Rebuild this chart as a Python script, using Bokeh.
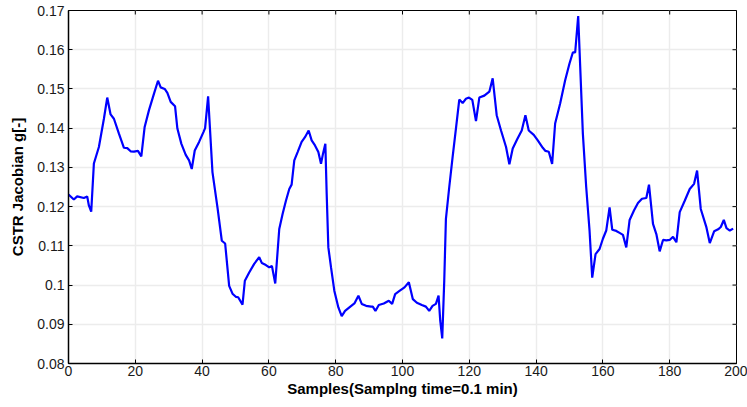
import math
from bokeh.plotting import figure
from bokeh.models import Range1d, FixedTicker
from bokeh.embed import file_html
from bokeh.resources import INLINE

samples = [
    0, 1.6, 2.6, 4.6, 5.6, 6.1, 6.8, 7.6, 9.1, 10.6,
    11.6, 12.6, 13.6, 15.1, 16.6, 17.6, 18.6, 19.6, 20.8, 21.8,
    22.8, 24.1, 25.6, 26.8, 27.6, 28.8, 29.6, 30.6, 31.9, 32.6,
    33.8, 35.1, 36.1, 36.9, 37.8, 39.1, 40.4, 40.9, 41.8, 43.1,
    44.6, 45.9, 46.9, 48.1, 49.1, 50.1, 50.8, 52.1, 52.8, 54.1,
    55.6, 57.1, 57.9, 59.1, 60.1, 60.9, 61.9, 63.1, 64.1, 65.1,
    66.1, 66.8, 67.6, 68.6, 69.8, 70.8, 71.9, 72.8, 73.8, 74.8,
    75.6, 76.2, 76.9, 77.3, 77.8, 78.6, 79.6, 80.8, 81.8, 82.8,
    84.1, 85.6, 86.8, 87.8, 89.1, 90.6, 91.1, 91.9, 92.9, 94.4,
    95.9, 96.9, 97.8, 99.1, 100.6, 101.9, 103.1, 104.3, 105.8, 107.0,
    108.0, 109.0, 110.0, 110.8, 111.3, 111.9, 112.5, 113.0, 114.0, 115.0,
    116.0, 117.0, 118.0, 119.0, 119.9, 120.9, 122.0, 123.0, 124.5, 126.0,
    127.0, 128.2, 129.5, 131.0, 132.0, 133.0, 134.3, 135.7, 136.8, 137.8,
    139.3, 140.5, 142.0, 142.8, 143.8, 144.8, 145.7, 147.2, 148.7, 150.0,
    151.0, 151.7, 152.6, 154.0, 155.0, 156.0, 156.8, 157.8, 159.0, 160.0,
    161.0, 162.0, 162.8, 164.0, 165.0, 166.0, 167.0, 168.0, 169.3, 170.5,
    171.7, 173.0, 173.8, 175.0, 176.0, 177.0, 178.0, 179.0, 180.0, 181.0,
    182.0, 183.0, 184.5, 186.0, 187.3, 188.2, 189.3, 191.0, 192.0, 193.3,
    194.5, 195.3, 196.2, 197.0, 198.0, 199.0,
]

jacobian = [
    0.1231, 0.1218, 0.1226, 0.1222, 0.1226, 0.1203, 0.1187, 0.1310, 0.1352, 0.1424,
    0.1478, 0.1435, 0.1424, 0.1386, 0.1350, 0.1349, 0.1341, 0.1340, 0.1342, 0.1328,
    0.1403, 0.1446, 0.1488, 0.1521, 0.1504, 0.1500, 0.1490, 0.1467, 0.1456, 0.1399,
    0.1360, 0.1332, 0.1318, 0.1296, 0.1343, 0.1365, 0.1390, 0.1400, 0.1481, 0.1288,
    0.1198, 0.1113, 0.1106, 0.0998, 0.0978, 0.0970, 0.0969, 0.0950, 0.1011, 0.1032,
    0.1054, 0.1071, 0.1056, 0.1051, 0.1045, 0.1049, 0.1004, 0.1143, 0.1181, 0.1215,
    0.1245, 0.1256, 0.1318, 0.1339, 0.1365, 0.1377, 0.1394, 0.1369, 0.1356, 0.1339,
    0.1309, 0.1335, 0.1360, 0.1233, 0.1096, 0.1045, 0.0985, 0.0943, 0.0921, 0.0934,
    0.0943, 0.0953, 0.0973, 0.0952, 0.0947, 0.0945, 0.0945, 0.0934, 0.0949, 0.0953,
    0.0960, 0.0952, 0.0977, 0.0985, 0.0994, 0.1007, 0.0964, 0.0955, 0.0949, 0.0945,
    0.0934, 0.0947, 0.0952, 0.0973, 0.0909, 0.0864, 0.1011, 0.1169, 0.1250, 0.1326,
    0.1399, 0.1473, 0.1464, 0.1475, 0.1478, 0.1472, 0.1418, 0.1478, 0.1483, 0.1493,
    0.1527, 0.1433, 0.1394, 0.1352, 0.1308, 0.1348, 0.1371, 0.1394, 0.1433, 0.1394,
    0.1383, 0.1369, 0.1350, 0.1342, 0.1340, 0.1309, 0.1412, 0.1463, 0.1522, 0.1565,
    0.1593, 0.1593, 0.1686, 0.1386, 0.1250, 0.1139, 0.1019, 0.1079, 0.1092, 0.1118,
    0.1139, 0.1198, 0.1141, 0.1138, 0.1133, 0.1128, 0.1096, 0.1166, 0.1190, 0.1209,
    0.1220, 0.1222, 0.1256, 0.1156, 0.1130, 0.1086, 0.1115, 0.1114, 0.1115, 0.1123,
    0.1109, 0.1186, 0.1215, 0.1245, 0.1258, 0.1292, 0.1194, 0.1147, 0.1107, 0.1137,
    0.1142, 0.1148, 0.1166, 0.1145, 0.1139, 0.1144,
]

x_ticks = [0, 20, 40, 60, 80, 100, 120, 140, 160, 180, 200]
y_ticks = [0.08, 0.09, 0.10, 0.11, 0.12, 0.13, 0.14, 0.15, 0.16, 0.17]
y_tick_labels = ["0.08", "0.09", "0.1", "0.11", "0.12", "0.13", "0.14", "0.15", "0.16", "0.17"]

FONT = "Liberation Sans, Arial, Helvetica"

p = figure(width=747, height=407, output_backend="svg", toolbar_location=None,
           x_range=Range1d(0, 200), y_range=Range1d(0.08, 0.17),
           min_border_left=68, min_border_right=11, min_border_top=10, min_border_bottom=44,
           background_fill_color="white", border_fill_color="white")
p.outline_line_color = "black"
p.outline_line_width = 1

p.xgrid.ticker = FixedTicker(ticks=x_ticks)
p.ygrid.ticker = FixedTicker(ticks=y_ticks)
p.grid.grid_line_color = "#ececec"
p.grid.grid_line_width = 1.5

p.line(samples, jacobian, line_color="#0000ff", line_width=2.2)

# inward tick marks on the top and right edges of the box
p.ray(x=x_ticks, y=[y_ticks[-1]] * len(x_ticks), length=4, length_units="screen",
      angle=-math.pi / 2, line_color="black", line_width=1)
p.ray(x=[x_ticks[-1]] * len(y_ticks), y=y_ticks, length=4, length_units="screen",
      angle=math.pi, line_color="black", line_width=1)

for ax in (p.xaxis[0], p.yaxis[0]):
    ax.major_tick_in = 4
    ax.major_tick_out = 0
    ax.minor_tick_in = 0
    ax.minor_tick_out = 0
    ax.axis_line_color = "black"
    ax.axis_line_width = 1.5
    ax.major_tick_line_color = "black"
    ax.major_label_text_font = FONT
    ax.major_label_text_font_size = "14px"
    ax.major_label_text_color = "#1a1a1a"
    ax.axis_label_text_font = FONT
    ax.axis_label_text_font_size = "15px"
    ax.axis_label_text_font_style = "bold"
    ax.axis_label_text_color = "black"

p.xaxis.ticker = FixedTicker(ticks=x_ticks)
p.yaxis.ticker = FixedTicker(ticks=y_ticks)
p.yaxis.major_label_overrides = {t: l for t, l in zip(y_ticks, y_tick_labels)}
p.xaxis.axis_label = "Samples(Samplng time=0.1 min)"
p.yaxis.axis_label = "CSTR Jacobian g[-]"
p.xaxis.axis_label_standoff = 1
p.yaxis.axis_label_standoff = 8
p.xaxis.major_label_standoff = 2
p.yaxis.major_label_standoff = 4

open("out.html", "w").write(file_html(p, INLINE))
